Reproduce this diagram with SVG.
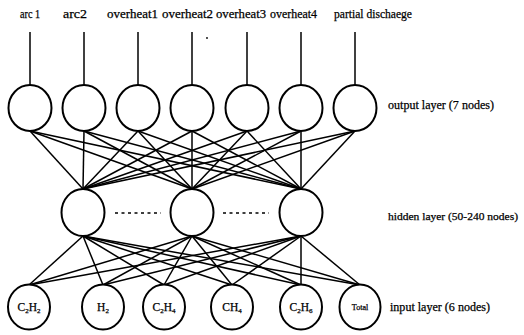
<svg xmlns="http://www.w3.org/2000/svg" width="524" height="335" viewBox="0 0 524 335">
<style>
.n{fill:#fff;stroke:#000;stroke-width:2}
.c line{stroke:#000;stroke-width:1.5}
.t{font-family:"Liberation Serif","Times New Roman",serif;font-size:12.5px;fill:#000;stroke:#000;stroke-width:0.25}
.s{font-family:"Liberation Serif","Times New Roman",serif;font-size:11.5px;fill:#000;stroke:#000;stroke-width:0.25;text-anchor:middle}
.d{stroke:#000;stroke-width:1.6;stroke-dasharray:3 3.5}
</style>
<rect width="524" height="335" fill="#fff"/>
<g id="connectors" class="c">
<line x1="30" y1="32" x2="30" y2="85"/>
<line x1="84" y1="32" x2="84" y2="85"/>
<line x1="138" y1="32" x2="138" y2="85"/>
<line x1="192" y1="32" x2="192" y2="85"/>
<line x1="247" y1="32" x2="247" y2="85"/>
<line x1="301" y1="32" x2="301" y2="85"/>
<line x1="355" y1="32" x2="355" y2="85"/>
<line x1="30" y1="131" x2="83" y2="189"/><line x1="30" y1="131" x2="192" y2="189"/><line x1="30" y1="131" x2="301" y2="189"/>
<line x1="84" y1="131" x2="83" y2="189"/><line x1="84" y1="131" x2="192" y2="189"/><line x1="84" y1="131" x2="301" y2="189"/>
<line x1="138" y1="131" x2="83" y2="189"/><line x1="138" y1="131" x2="192" y2="189"/><line x1="138" y1="131" x2="301" y2="189"/>
<line x1="192" y1="131" x2="83" y2="189"/><line x1="192" y1="131" x2="192" y2="189"/><line x1="192" y1="131" x2="301" y2="189"/>
<line x1="247" y1="131" x2="83" y2="189"/><line x1="247" y1="131" x2="192" y2="189"/><line x1="247" y1="131" x2="301" y2="189"/>
<line x1="301" y1="131" x2="83" y2="189"/><line x1="301" y1="131" x2="192" y2="189"/><line x1="301" y1="131" x2="301" y2="189"/>
<line x1="355" y1="131" x2="83" y2="189"/><line x1="355" y1="131" x2="192" y2="189"/><line x1="355" y1="131" x2="301" y2="189"/>
<line x1="83" y1="236" x2="29" y2="285"/><line x1="83" y1="236" x2="103" y2="285"/><line x1="83" y1="236" x2="164" y2="285"/><line x1="83" y1="236" x2="232" y2="285"/><line x1="83" y1="236" x2="301" y2="285"/><line x1="83" y1="236" x2="360" y2="285"/>
<line x1="192" y1="236" x2="29" y2="285"/><line x1="192" y1="236" x2="103" y2="285"/><line x1="192" y1="236" x2="164" y2="285"/><line x1="192" y1="236" x2="232" y2="285"/><line x1="192" y1="236" x2="301" y2="285"/><line x1="192" y1="236" x2="360" y2="285"/>
<line x1="301" y1="236" x2="29" y2="285"/><line x1="301" y1="236" x2="103" y2="285"/><line x1="301" y1="236" x2="164" y2="285"/><line x1="301" y1="236" x2="232" y2="285"/><line x1="301" y1="236" x2="301" y2="285"/><line x1="301" y1="236" x2="360" y2="285"/>
</g>
<g id="out-labels">
<text class="t" x="20" y="18" textLength="20" lengthAdjust="spacingAndGlyphs">arc 1</text>
<text class="t" x="63" y="18" textLength="24" lengthAdjust="spacingAndGlyphs">arc2</text>
<text class="t" x="107" y="18" textLength="51" lengthAdjust="spacingAndGlyphs">overheat1</text>
<text class="t" x="162" y="18" textLength="51" lengthAdjust="spacingAndGlyphs">overheat2</text>
<text class="t" x="216" y="18" textLength="50" lengthAdjust="spacingAndGlyphs">overheat3</text>
<text class="t" x="270" y="18" textLength="47" lengthAdjust="spacingAndGlyphs">overheat4</text>
<text class="t" x="334" y="18" textLength="78" lengthAdjust="spacingAndGlyphs">partial dischaege</text>
</g>
<circle cx="207" cy="38" r="0.9" fill="#000"/>
<g id="o1"><ellipse class="n" cx="30" cy="108" rx="21.5" ry="23"/></g>
<g id="o2"><ellipse class="n" cx="84" cy="108" rx="21.5" ry="23"/></g>
<g id="o3"><ellipse class="n" cx="138" cy="108" rx="21.5" ry="23"/></g>
<g id="o4"><ellipse class="n" cx="192" cy="108" rx="21.5" ry="23"/></g>
<g id="o5"><ellipse class="n" cx="247" cy="108" rx="21.5" ry="23"/></g>
<g id="o6"><ellipse class="n" cx="301" cy="108" rx="21.5" ry="23"/></g>
<g id="o7"><ellipse class="n" cx="355" cy="108" rx="21.5" ry="23"/></g>
<g id="h1"><ellipse class="n" cx="83" cy="212.5" rx="21.5" ry="23.5"/></g>
<g id="h2"><ellipse class="n" cx="192" cy="212.5" rx="21.5" ry="23.5"/></g>
<g id="h3"><ellipse class="n" cx="301" cy="212.5" rx="21.5" ry="23.5"/></g>
<line class="d" x1="115" y1="213" x2="161" y2="213"/>
<line class="d" x1="223" y1="213" x2="269" y2="213"/>
<g id="i1"><ellipse class="n" cx="29" cy="307" rx="21" ry="22.5"/><text class="s" x="29" y="311">C<tspan font-size="7" dy="2">2</tspan><tspan dy="-2">H</tspan><tspan font-size="7" dy="2">2</tspan></text></g>
<g id="i2"><ellipse class="n" cx="103" cy="307" rx="21" ry="22.5"/><text class="s" x="103" y="311">H<tspan font-size="7" dy="2">2</tspan></text></g>
<g id="i3"><ellipse class="n" cx="164" cy="307" rx="21" ry="22.5"/><text class="s" x="164" y="311">C<tspan font-size="7" dy="2">2</tspan><tspan dy="-2">H</tspan><tspan font-size="7" dy="2">4</tspan></text></g>
<g id="i4"><ellipse class="n" cx="232" cy="307" rx="21" ry="22.5"/><text class="s" x="232" y="311">CH<tspan font-size="7" dy="2">4</tspan></text></g>
<g id="i5"><ellipse class="n" cx="301" cy="307" rx="21" ry="22.5"/><text class="s" x="301" y="311">C<tspan font-size="7" dy="2">2</tspan><tspan dy="-2">H</tspan><tspan font-size="7" dy="2">6</tspan></text></g>
<g id="i6"><ellipse class="n" cx="360" cy="307" rx="20.5" ry="22.5"/><text class="s" x="360" y="310" style="font-size:8px">Total</text></g>
<g id="layer-labels">
<text class="t" x="388" y="109" textLength="106" lengthAdjust="spacingAndGlyphs">output layer (7 nodes)</text>
<text class="t" x="388" y="220" style="font-size:11px" textLength="130" lengthAdjust="spacingAndGlyphs">hidden layer (50-240 nodes)</text>
<text class="t" x="390" y="311" textLength="100" lengthAdjust="spacingAndGlyphs">input layer (6 nodes)</text>
</g>
</svg>
